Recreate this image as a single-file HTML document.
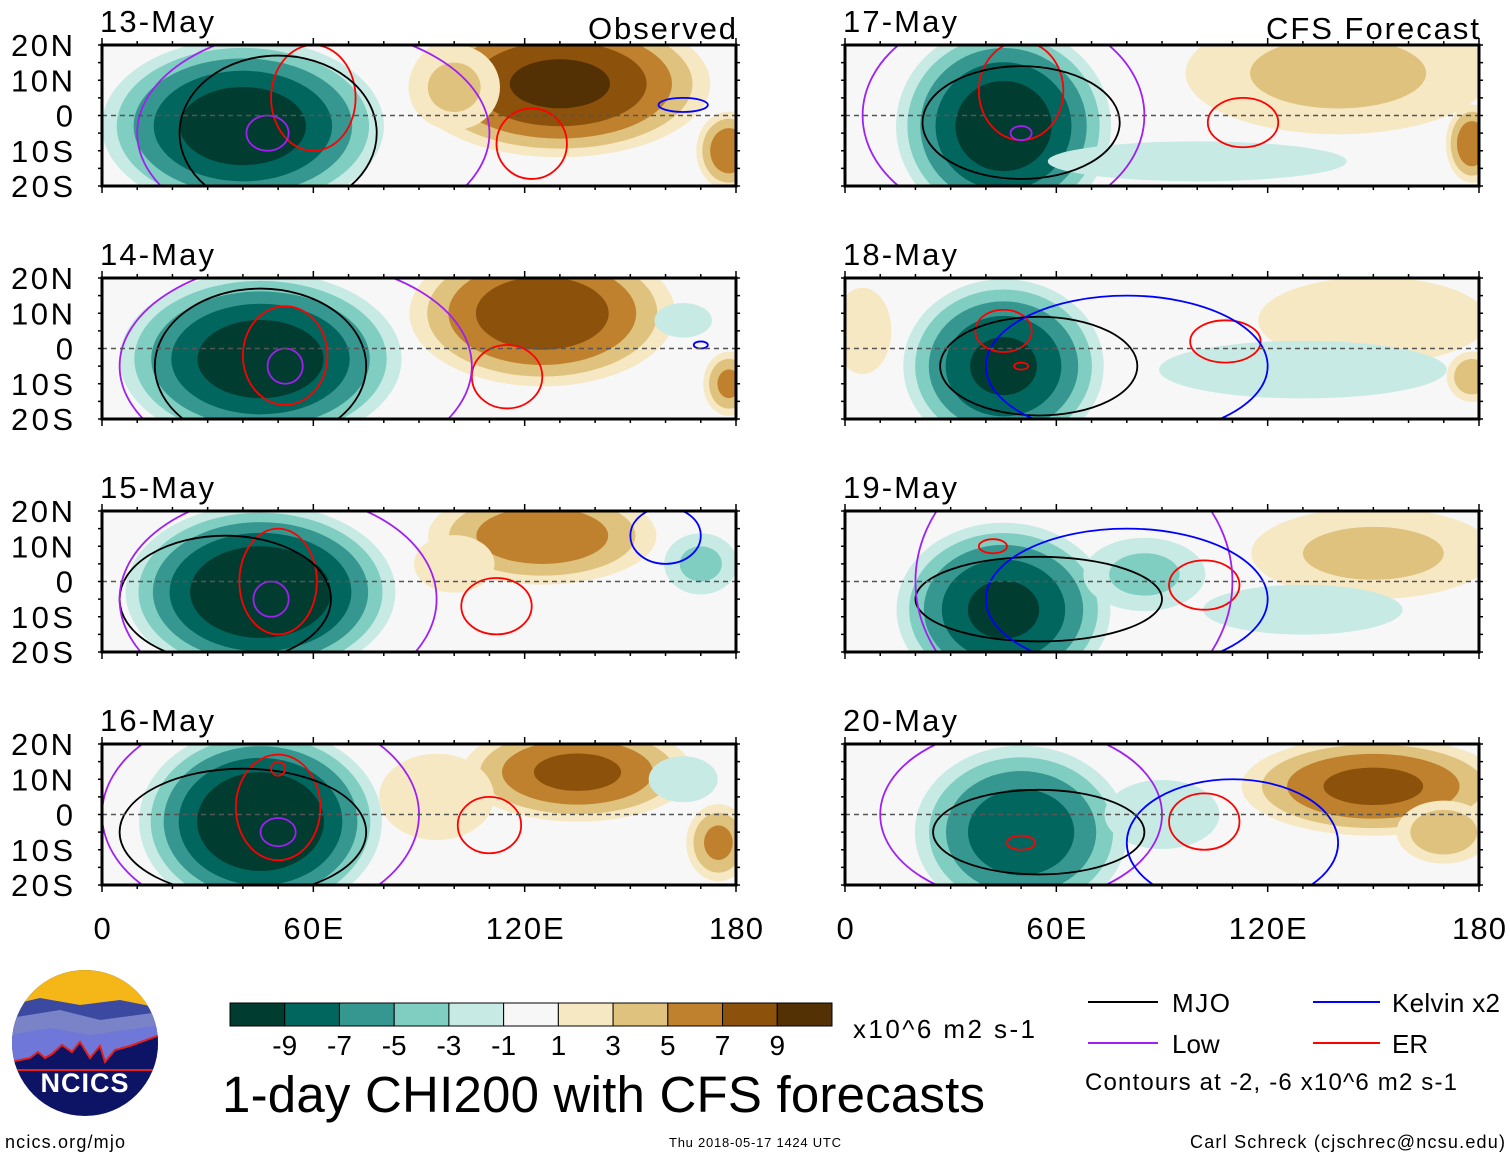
<!DOCTYPE html>
<html><head><meta charset="utf-8"><style>
body{margin:0;background:#fff;}
svg{display:block;font-family:"Liberation Sans",sans-serif;}
</style></head><body>
<svg id="fig" width="1510" height="1158" viewBox="0 0 1510 1158" xmlns="http://www.w3.org/2000/svg">
<g id="panels"></g>
<g id="bottom">
  <g>
    <clipPath id="logoclip"><circle cx="85" cy="1043" r="73"/></clipPath>
    <g clip-path="url(#logoclip)">
      <rect x="10" y="968" width="150" height="150" fill="#0d1466"/>
      <rect x="10" y="968" width="150" height="50" fill="#f5b718"/>
      <path d="M10 1005 L40 998 L80 1005 L120 1000 L160 1008 L160 1040 L10 1040Z" fill="#3b4aa0"/>
      <path d="M10 1018 L60 1010 L100 1020 L160 1012 L160 1045 L10 1045Z" fill="#7a82c8"/>
      <path d="M10 1035 L50 1028 L90 1035 L160 1025 L160 1060 L10 1060Z" fill="#6f78d8"/>
      <path d="M10 1062 L30 1058 L38 1052 L45 1058 L52 1054 L62 1045 L72 1052 L80 1042 L90 1058 L100 1046 L105 1062 L115 1050 L130 1046 L160 1035 L160 1070 L10 1070Z" fill="#0d1466" stroke="#e0201e" stroke-width="2"/>
    </g>
    <text x="85" y="1092" text-anchor="middle" font-size="27" font-weight="bold" fill="#fff" letter-spacing="1">NCICS</text>
  </g>
  <text x="5" y="1148" font-size="18" textLength="120">ncics.org/mjo</text>
  <text x="669" y="1147" font-size="13" textLength="172">Thu 2018-05-17 1424 UTC</text>
  <text x="1190" y="1148" font-size="18" textLength="315">Carl Schreck (cjschrec@ncsu.edu)</text>
  <g id="colorbar"></g>
  <text x="853" y="1038" font-size="26" textLength="182">x10^6 m2 s-1</text>
  <text x="222" y="1112" font-size="51" textLength="763">1-day CHI200 with CFS forecasts</text>
  <g>
    <line x1="1088" y1="1002" x2="1158" y2="1002" stroke="#000" stroke-width="2"/>
    <text x="1172" y="1012" font-size="26" textLength="58">MJO</text>
    <line x1="1313" y1="1002" x2="1380" y2="1002" stroke="#0000ff" stroke-width="2"/>
    <text x="1392" y="1012" font-size="26" textLength="108">Kelvin x2</text>
    <line x1="1088" y1="1043" x2="1158" y2="1043" stroke="#a020f0" stroke-width="2"/>
    <text x="1172" y="1053" font-size="26">Low</text>
    <line x1="1313" y1="1043" x2="1380" y2="1043" stroke="#ff0000" stroke-width="2"/>
    <text x="1392" y="1053" font-size="26">ER</text>
    <text x="1085" y="1090" font-size="24" textLength="372">Contours at -2, -6 x10^6 m2 s-1</text>
  </g>
</g>
</svg>
<script>
// ---- data ----
const dates = ["13-May","14-May","15-May","16-May","17-May","18-May","19-May","20-May"];
const latTicks = ["20N","10N","0","10S","20S"];
const latValues = [20,10,0,-10,-20];
const lonTicks = ["0","60E","120E","180"];
const lonValues = [0,60,120,180];
const cbLevels = ["-9","-7","-5","-3","-1","1","3","5","7","9"];
const cbColors = ["#003c30","#01665e","#35978f","#80cdc1","#c7eae5","#f7f7f7","#f6e8c3","#dfc27d","#bf812d","#8c510a","#543005"];
// blobs: [lon, lat, rxDeg, ryDeg, amplitude]
const blobs0 = [[40,-3,42,26,-11],[130,9,45,22,10],[178,-10,10,12,7],[100,8,15,14,4]];
const blobs1 = [[45,-3,42,26,-11],[125,10,40,22,9],[178,-10,8,10,6],[165,8,10,6,-3]];
const blobs2 = [[45,-3,40,26,-12],[125,13,35,15,7],[170,5,12,10,-4],[100,5,14,10,3]];
const blobs3 = [[45,-2,36,28,-12],[135,12,35,15,8],[175,-8,10,12,6],[165,10,12,8,-3],[95,5,20,15,3]];
const blobs4 = [[45,-3,32,30,-11],[140,12,50,20,4],[178,-8,8,12,7],[100,-13,60,8,-2]];
const blobs5 = [[45,-5,30,26,-10],[150,8,40,15,3],[130,-6,50,10,-3],[5,5,10,15,3],[178,-8,8,8,5]];
const blobs6 = [[45,-8,32,26,-10],[150,8,40,15,4],[85,2,20,12,-4],[130,-8,40,10,-2]];
const blobs7 = [[50,-5,32,26,-9],[150,8,40,15,8],[170,-5,15,10,5],[90,0,20,12,-3]];
// contours: [lon, lat, rxDeg, ryDeg, type]
const cont0 = [[60,5,12,15,"er"],[47,-5,6,5,"low"],[50,-5,28,22,"mjo"],[122,-8,10,10,"er"],[165,3,7,2,"kelvin"],[60,-5,50,30,"low"]];
const cont1 = [[52,-2,12,14,"er"],[52,-5,5,5,"low"],[45,-5,30,22,"mjo"],[115,-8,10,9,"er"],[170,1,2,1,"kelvin"],[55,-5,50,30,"low"]];
const cont2 = [[50,0,11,15,"er"],[48,-5,5,5,"low"],[35,-5,30,18,"mjo"],[112,-7,10,8,"er"],[160,13,10,8,"kelvin"],[50,-5,45,30,"low"]];
const cont3 = [[50,2,12,15,"er"],[50,-5,5,4,"low"],[40,-5,35,18,"mjo"],[110,-3,9,8,"er"],[50,13,2,2,"er"],[45,0,45,30,"low"]];
const cont4 = [[50,7,12,14,"er"],[50,-5,3,2,"low"],[50,-2,28,16,"mjo"],[113,-2,10,7,"er"],[45,0,40,30,"low"]];
const cont5 = [[45,5,8,6,"er"],[50,-5,2,1,"er"],[55,-5,28,14,"mjo"],[108,2,10,6,"er"],[80,-5,40,20,"kelvin"]];
const cont6 = [[42,10,4,2,"er"],[55,-5,35,12,"mjo"],[102,-1,10,7,"er"],[65,0,45,40,"low"],[80,-5,40,20,"kelvin"]];
const cont7 = [[50,-8,4,2,"er"],[55,-5,30,12,"mjo"],[102,-2,10,8,"er"],[50,0,40,25,"low"],[110,-8,30,18,"kelvin"]];
const allBlobs = [blobs0,blobs1,blobs2,blobs3,blobs4,blobs5,blobs6,blobs7];
const allConts = [cont0,cont1,cont2,cont3,cont4,cont5,cont6,cont7];

const NS="http://www.w3.org/2000/svg";
const contColors = {mjo:"#000000",low:"#a020f0",kelvin:"#0000ff",er:"#ff0000"};
const panelX=[102,845], panelY=[45,278,511,744], PW=634, PH=141;
function mk(tag,attrs,parent){const e=document.createElementNS(NS,tag);for(const k in attrs)e.setAttribute(k,attrs[k]);parent.appendChild(e);return e;}
const root=document.getElementById("panels");
const thresholds=[1,3,5,7,9];
const lonW={"0":17,"60E":60,"120E":78,"180":54};
for(let p=0;p<8;p++){
  const col=p<4?0:1,row=p%4;
  const x0=panelX[col],y0=panelY[row];
  const xs=lon=>x0+lon/180*PW, ys=lat=>y0+(20-lat)/40*PH;
  const g=mk("g",{},root);
  
  
  const cp=mk("clipPath",{id:"cp"+p},g);
  mk("rect",{x:x0,y:y0,width:PW,height:PH},cp);
  const inner=mk("g",{"clip-path":"url(#cp"+p+")"},g);
  mk("rect",{x:x0,y:y0,width:PW,height:PH,fill:"#f7f7f7"},inner);
  for(const b of allBlobs[p]){
    const [lon,lat,rx,ry,a]=b;
    for(let k=0;k<thresholds.length;k++){
      const t=thresholds[k]; if(t>=Math.abs(a))break;
      const s=Math.sqrt(1-t/Math.abs(a));
      const c=a<0?cbColors[4-k]:cbColors[6+k];
      const el=mk("ellipse",{cx:xs(lon),cy:ys(lat),rx:rx*s*PW/180,ry:ry*s*PH/40,fill:c},inner);
      
      
    }
  }
  for(const c of allConts[p]){
    const [lon,lat,rx,ry,ty]=c;
    const el=mk("ellipse",{cx:xs(lon),cy:ys(lat),rx:rx*PW/180,ry:ry*PH/40,fill:"none",stroke:contColors[ty],"stroke-width":1.8},inner);
    
    
  }
  mk("line",{x1:x0,y1:ys(0),x2:x0+PW,y2:ys(0),stroke:"#555","stroke-width":1.5,"stroke-dasharray":"5,4"},inner);
  mk("rect",{x:x0,y:y0,width:PW,height:PH,fill:"none",stroke:"#000","stroke-width":3},g);
  for(let lon=0;lon<=180;lon+=10){
    const L=lon%60===0?7:4;
    mk("line",{x1:xs(lon),y1:y0,x2:xs(lon),y2:y0-L,stroke:"#000","stroke-width":1.5},g);
    mk("line",{x1:xs(lon),y1:y0+PH,x2:xs(lon),y2:y0+PH+L,stroke:"#000","stroke-width":1.5},g);
  }
  for(let lat=-20;lat<=20;lat+=5){
    mk("line",{x1:x0,y1:ys(lat),x2:x0-4,y2:ys(lat),stroke:"#000","stroke-width":1.5},g);
    mk("line",{x1:x0+PW,y1:ys(lat),x2:x0+PW+4,y2:ys(lat),stroke:"#000","stroke-width":1.5},g);
  }
  const dt=mk("text",{x:x0-2,y:y0-13,"font-size":31,textLength:114},g); dt.textContent=dates[p];
  
  
  if(row===0){const w=col===0?148:213;const t=mk("text",{x:x0+PW-w,y:y0-6,"font-size":31,textLength:w},g);t.textContent=col===0?"Observed":"CFS Forecast";
    
    }
  if(col===0){for(let i=0;i<latTicks.length;i++){const t=mk("text",{x:73,y:ys(latValues[i])+11,"font-size":31,"text-anchor":"end"},g);t.textContent=latTicks[i];
    if(latTicks[i]!=="0"){t.setAttribute("textLength",62);}
    
    }}
  if(row===3){for(let i=0;i<lonTicks.length;i++){const w=lonW[lonTicks[i]];const t=mk("text",{x:xs(lonValues[i])-w/2,y:939,"font-size":31,textLength:w},g);t.textContent=lonTicks[i];
    
    }}
}
const cb=document.getElementById("colorbar");
const cbx=230,cbw=602/11;
for(let i=0;i<11;i++){
  const r=mk("rect",{x:cbx+i*cbw,y:1003,width:cbw,height:23,fill:cbColors[i],stroke:"#000","stroke-width":1},cb);
  
  
}
for(let i=0;i<cbLevels.length;i++){
  const t=mk("text",{x:cbx+(i+1)*cbw,y:1055,"font-size":28,"text-anchor":"middle"},cb);t.textContent=cbLevels[i];
  
  
}
</script>
</body></html>
